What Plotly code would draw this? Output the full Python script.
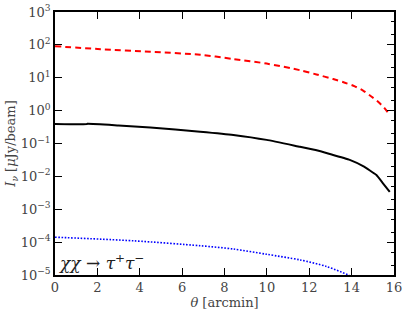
import plotly.graph_objects as go

theta_red = [0, 2.15, 4.5, 6.85, 8.42, 9.99, 11.56, 12.34, 13.13, 13.68, 14.15, 14.54, 14.93, 15.25, 15.56, 15.76]
logI_red = [1.96, 1.87, 1.79, 1.70, 1.57, 1.43, 1.23, 1.10, 0.96, 0.85, 0.74, 0.61, 0.43, 0.27, 0.07, -0.10]

theta_black = [0, 1.5, 1.52, 3.0, 4.5, 6.85, 8.42, 9.99, 11.56, 12.3, 12.97, 13.91, 14.54, 15.17, 15.48, 15.8]
logI_black = [-0.405, -0.41, -0.40, -0.45, -0.51, -0.64, -0.74, -0.89, -1.10, -1.20, -1.32, -1.50, -1.69, -1.96, -2.21, -2.47]

theta_blue = [0, 3.71, 6.85, 8.42, 9.99, 11.56, 12.81, 13.83, 14.2]
logI_blue = [-3.85, -3.96, -4.11, -4.21, -4.37, -4.54, -4.74, -5.0, -5.15]

red = [10 ** v for v in logI_red]
black = [10 ** v for v in logI_black]
blue = [10 ** v for v in logI_blue]

x_ticks = [0, 2, 4, 6, 8, 10, 12, 14, 16]
y_exponents = [-5, -4, -3, -2, -1, 0, 1, 2, 3]
y_ticks = [10.0 ** e for e in y_exponents]
y_ticktext = [f"10<sup>{str(e).replace('-', '−')}</sup>" for e in y_exponents]

font_family = "DejaVu Serif"
tick_color = "#444444"

fig = go.Figure()
fig.add_trace(go.Scatter(x=theta_red, y=red, mode="lines",
                         line=dict(color="#ff0000", width=2, dash="6px,4px", shape="spline", smoothing=0.8),
                         showlegend=False))
fig.add_trace(go.Scatter(x=theta_black, y=black, mode="lines",
                         line=dict(color="black", width=2, shape="spline", smoothing=0.4),
                         showlegend=False))
fig.add_trace(go.Scatter(x=theta_blue, y=blue, mode="lines",
                         line=dict(color="#0000ff", width=1.6, dash="1.6px,1.6px", shape="spline", smoothing=0.8),
                         showlegend=False))
fig.add_trace(go.Scatter(x=[None], y=[None], yaxis="y2", showlegend=False))

fig.update_layout(
    width=407, height=317,
    margin=dict(l=55, r=13, t=12, b=42, autoexpand=False),
    paper_bgcolor="white", plot_bgcolor="white",
    font=dict(family=font_family, size=13, color=tick_color),
    xaxis=dict(range=[0, 16], tickvals=x_ticks, ticks="inside", ticklen=7, tickwidth=1.2,
               tickcolor="black", showline=True, linecolor="black", linewidth=1.5,
               mirror="ticks", showgrid=False, zeroline=False, automargin=False,
               title=dict(text="<i>θ</i> [arcmin]", standoff=4, font=dict(size=13))),
    yaxis=dict(type="log", range=[-5, 3], tickvals=y_ticks, ticktext=y_ticktext,
               ticks="inside", ticklen=7, tickwidth=1.2, tickcolor="black", showline=True,
               linecolor="black", linewidth=1.5, mirror="ticks", showgrid=False, zeroline=False,
               automargin=False,
               title=dict(text="<i>I<sub>ν</sub></i> [<i>μ</i>Jy/beam]", standoff=2, font=dict(size=13))),
    yaxis2=dict(type="log", range=[-5, 3], overlaying="y", side="right", showticklabels=False,
                tickvals=y_ticks, ticks="inside", ticklen=7, tickwidth=1.2, tickcolor="black",
                minor=dict(ticks="inside", ticklen=3, tickcolor="black", tickwidth=0.8),
                showgrid=False, zeroline=False, showline=False, automargin=False),
)

fig.add_annotation(text="<i>χχ</i> → <i>τ</i><sup>+</sup><i>τ</i><sup>−</sup>",
                   xref="paper", yref="paper", x=0.005, y=0.0, xanchor="left", yanchor="bottom",
                   showarrow=False, font=dict(size=17, color="#222222", family=font_family))

fig.write_html("out.html", config={"displayModeBar": False},
               post_script="document.body.style.margin='0';")
